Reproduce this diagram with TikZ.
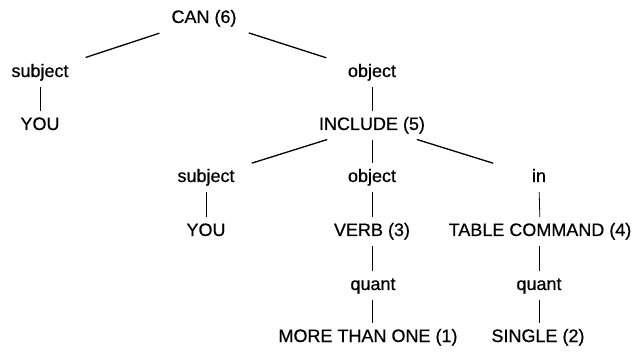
\documentclass[tikz,border=0pt]{standalone}
\usepackage{fontspec}
\setmainfont{Liberation Sans}[FakeBold=0.6]
\begin{document}
\begin{tikzpicture}[x=1pt,y=-1pt,
  lab/.style={inner sep=0pt, anchor=base, text height=13pt, text depth=4pt,
              font=\fontsize{18}{20}\selectfont},
  diag/.style={line width=1.3pt, shorten <=47pt, shorten >=48pt},
  vert/.style={line width=0.8pt, shorten <=6pt, shorten >=6pt}]
\useasboundingbox (0,0) rectangle (634,352);

\node[lab] (can)   at (204,23)  {CAN (6)};
\node[lab] (subjA) at (40,77)   {subject};
\node[lab] (youA)  at (40,130)  {YOU};
\node[lab] (objA)  at (372,77)  {object};
\node[lab] (incl)  at (372,130) {INCLUDE (5)};
\node[lab] (subjB) at (206,182) {subject};
\node[lab] (objB)  at (372,182) {object};
\node[lab] (inB)   at (539,182) {in};
\node[lab] (youB)  at (206,236) {YOU};
\node[lab] (verb)  at (372,236) {VERB (3)};
\node[lab] (table) at (540,236) {TABLE COMMAND (4)};
\node[lab] (quA)   at (373,290) {quant};
\node[lab] (quB)   at (539,290) {quant};
\node[lab] (more)  at (368,342) {MORE THAN ONE (1)};
\node[lab] (single) at (538,342) {SINGLE (2)};

\draw[diag] (can.center) -- (subjA.center);
\draw[diag] (can.center) -- (objA.center);
\draw[diag] (incl.center) -- (subjB.center);
\draw[diag] (incl.center) -- (inB.center);

\draw[vert] (subjA.south) -- (youA.north);
\draw[vert] (objA.south) -- (incl.north);
\draw[vert] (incl.south) -- (objB.north);
\draw[vert] (subjB.south) -- (youB.north);
\draw[vert] (objB.south) -- (verb.north);
\draw[vert] (inB.south) -- (table.north);
\draw[vert] (verb.south -| objB.south) -- (quA.north -| objB.south);
\draw[vert] (table.south -| inB.south) -- (quB.north -| inB.south);
\draw[vert] (quA.south -| objB.south) -- (more.north -| objB.south);
\draw[vert] (quB.south -| inB.south) -- (single.north -| inB.south);
\end{tikzpicture}
\end{document}
